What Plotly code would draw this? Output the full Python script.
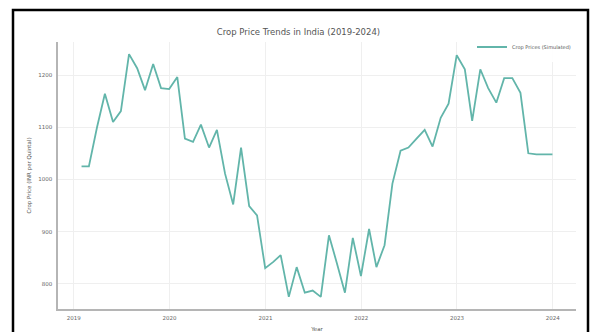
import pandas as pd
import plotly.graph_objects as go

# ---- data ----
start_date = "2019-01-31"
n_months = 60
prices = [1025, 1025, 1100, 1164, 1110, 1131, 1240, 1213, 1171, 1221,
          1175, 1173, 1196, 1078, 1072, 1105, 1061, 1095, 1011, 952,
          1061, 949, 931, 830, 842, 855, 775, 832, 783, 787,
          775, 893, 840, 783, 888, 815, 905, 832, 874, 992,
          1055, 1061, 1078, 1095, 1063, 1118, 1145, 1238, 1211, 1112,
          1211, 1175, 1147, 1194, 1194, 1166, 1050, 1048, 1048, 1048]
y_ticks = [800, 900, 1000, 1100, 1200]
x_tick_years = [2019, 2020, 2021, 2022, 2023, 2024]
series_name = "Crop Prices (Simulated)"
title_text = "Crop Price Trends in India (2019-2024)"
x_title = "Year"
y_title = "Crop Price (INR per Quintal)"

dates = pd.date_range(start_date, periods=n_months, freq=pd.offsets.MonthEnd())

# matplotlib-like 5% margins
span = dates[-1] - dates[0]
x_range = [dates[0] - span * 0.05, dates[-1] + span * 0.05]
ymin, ymax = min(prices), max(prices)
yspan = ymax - ymin
y_range = [ymin - 0.05 * yspan, ymax + 0.05 * yspan]

fig = go.Figure()
fig.add_trace(go.Scatter(
    x=dates, y=prices, mode="lines", name=series_name,
    line=dict(color="#62b5aa", width=1.8),
    showlegend=True,
))

W, H = 597, 332
L, R, T, B = 58, 21, 42, 23
pw, ph = W - L - R, H - T - B

def px_x(p):
    return (p - L) / pw

def px_y(p):
    return (H - B - p) / ph

fig.update_layout(
    width=W, height=H,
    margin=dict(l=L, r=R, t=T, b=B, autoexpand=False),
    paper_bgcolor="white", plot_bgcolor="white",
    font=dict(family="DejaVu Sans", size=6, color="#555555"),
    title=dict(text=title_text, x=px_x(317), xanchor="center",
               y=1 - 32 / H, yanchor="middle",
               font=dict(size=8.5, color="#555555")),
    xaxis=dict(
        range=x_range, type="date", automargin=False,
        tickvals=[pd.Timestamp(f"{yr}-01-01") for yr in x_tick_years],
        ticktext=[str(yr) for yr in x_tick_years],
        showgrid=True, gridcolor="#efefef", gridwidth=1,
        showline=True, linecolor="#b5b5b5", linewidth=1.5,
        zeroline=False, ticks="outside", ticklen=3, tickcolor="rgba(0,0,0,0)",
        tickfont=dict(size=5.5, color="#666666"),
        title=dict(text=x_title, standoff=10, font=dict(size=5.5, color="#555555")),
    ),
    yaxis=dict(
        range=y_range, automargin=False,
        tickvals=y_ticks,
        showgrid=True, gridcolor="#efefef", gridwidth=1,
        showline=True, linecolor="#b5b5b5", linewidth=1.5,
        zeroline=False, ticks="outside", ticklen=3, tickcolor="rgba(0,0,0,0)",
        tickfont=dict(size=5.5, color="#666666"),
        title=dict(text=y_title, standoff=6, font=dict(size=5.5, color="#555555")),
    ),
    legend=dict(x=1.0, xanchor="right", y=px_y(47), yanchor="middle",
                bgcolor="rgba(255,255,255,0.9)", bordercolor="rgba(0,0,0,0)", borderwidth=0,
                font=dict(size=5, color="#555555"), itemwidth=30,
                tracegroupgap=0),
    shapes=[dict(type="rect", xref="paper", yref="paper",
                 x0=px_x(13), x1=px_x(588), y0=px_y(345), y1=px_y(10),
                 line=dict(color="black", width=2.5), fillcolor="rgba(0,0,0,0)",
                 layer="above")],
)

fig.write_html("out.html")
